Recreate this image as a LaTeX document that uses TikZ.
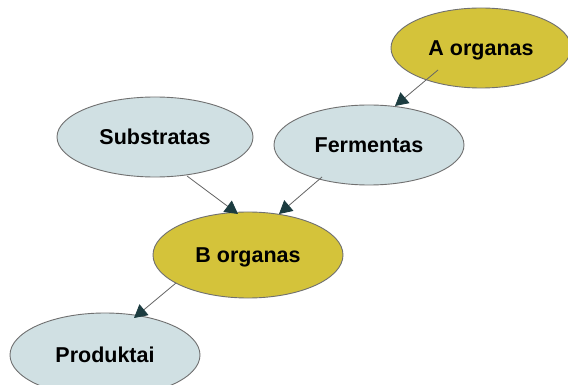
\documentclass[tikz,border=0pt]{standalone}
\usepackage{fontspec}
\setmainfont{Liberation Sans}
\usetikzlibrary{arrows.meta,shapes.geometric}
\definecolor{yel}{HTML}{D4C33A}
\definecolor{lblue}{HTML}{D0E0E3}
\definecolor{edge}{HTML}{707070}
\definecolor{tip}{HTML}{1C3C40}
\tikzset{
  blob/.style={ellipse, draw=edge, line width=0.9pt, inner sep=0pt, text height=15pt, text depth=0pt, font=\fontsize{21.5}{24}\selectfont\bfseries},
  yblob/.style={blob, fill=yel},
  bblob/.style={blob, fill=lblue},
  conn/.style={draw=edge!90!black, line width=0.8pt, -{Triangle[length=13pt,width=14pt,fill=tip,color=tip]}}
}
\begin{document}
\begin{tikzpicture}[x=1pt,y=-1pt]
\useasboundingbox (0,0) rectangle (568,385);
\clip (0,0) rectangle (568,385);
\fill[white] (0,0) rectangle (568,385);
\node[yblob, minimum width=180pt, minimum height=80pt] (A) at (481,48) {A organas};
\node[bblob, minimum width=196pt, minimum height=80pt] (S) at (155,137) {Substratas};
\node[bblob, minimum width=190pt, minimum height=80pt] (F) at (369,145) {Fermentas};
\node[yblob, minimum width=190pt, minimum height=86pt] (B) at (248,255) {B organas};
\node[bblob, minimum width=190pt, minimum height=84pt] (P) at (105,355) {Produktai};
\coordinate (a1) at (438,70);
\coordinate (a2) at (395,106);
\coordinate (s1) at (187,176);
\coordinate (s2) at (238,214);
\coordinate (f1) at (322,177);
\coordinate (f2) at (279,214);
\coordinate (b1) at (176,283);
\coordinate (b2) at (134,318);
\draw[conn] (a1) -- (a2);
\draw[conn] (s1) -- (s2);
\draw[conn] (f1) -- (f2);
\draw[conn] (b1) -- (b2);
\end{tikzpicture}
\end{document}
